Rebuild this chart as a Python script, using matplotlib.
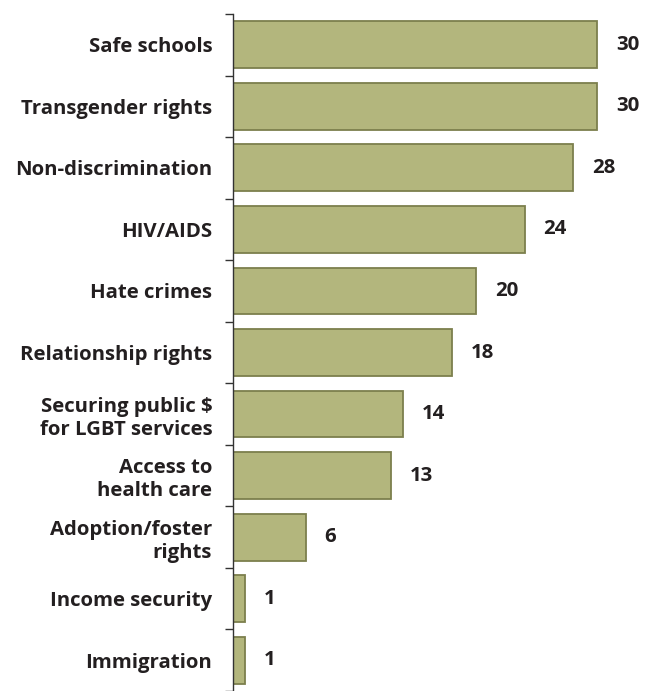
import matplotlib
matplotlib.use("Agg")
import matplotlib.pyplot as plt
import numpy as np

categories = ["Safe schools", "Transgender rights", "Non-discrimination", "HIV/AIDS",
              "Hate crimes", "Relationship rights", "Securing public $\nfor LGBT services",
              "Access to\nhealth care", "Adoption/foster\nrights", "Income security", "Immigration"]
values = [30, 30, 28, 24, 20, 18, 14, 13, 6, 1, 1]
value_labels = ["30", "30", "28", "24", "20", "18", "14", "13", "6", "1", "1"]

plt.rcParams['font.family'] = ['Open Sans', 'DejaVu Sans']
txt = '#231f20'
fs = 14.7

fig = plt.figure(figsize=(6.46, 6.91), dpi=100)
ax = fig.add_axes([233/646, 0.0, 1 - 233/646, 1 - 14/691])

y = np.arange(len(categories))
ax.barh(y, values, height=0.76, color='#b3b67d', edgecolor='#7c7f4d', linewidth=1.3, zorder=2)

ax.set_ylim(len(categories) - 0.5, -0.5)
ax.set_xlim(0, 34)

for s in ['top', 'right', 'bottom']:
    ax.spines[s].set_visible(False)
ax.spines['left'].set_color('#333333')
ax.spines['left'].set_linewidth(1.0)
ax.set_xticks([])

ax.set_yticks(y)
ax.set_yticklabels(categories, fontsize=fs, fontweight='bold', color=txt, linespacing=1.2)
ax.tick_params(axis='y', which='major', length=0, pad=15)
ax.set_yticks(np.arange(-0.5, len(categories) + 0.5, 1), minor=True)
ax.tick_params(axis='y', which='minor', length=6, width=1.0, color='#333333', direction='out')
for lab in ax.get_yticklabels():
    lab.set_horizontalalignment('right')

for yi, v, lab in zip(y, values, value_labels):
    ax.annotate(lab, (v, yi), xytext=(13.5, 0), textcoords='offset points',
                ha='left', va='center', fontsize=fs, fontweight='bold', color=txt)

fig.savefig('out.png', dpi=100)
